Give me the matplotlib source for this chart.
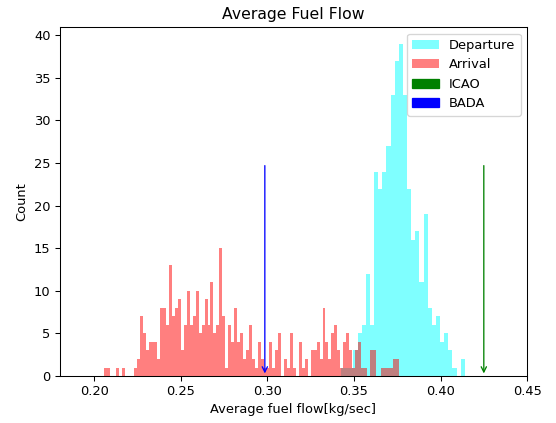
import numpy as np
import matplotlib
matplotlib.use("Agg")
import matplotlib.pyplot as plt
import matplotlib.patches as mpatches

# Histogram counts per bin (average fuel flow, kg/sec)
arrival_range = (0.2058, 0.3761)
arrival_counts = [
    1, 1, 0, 0, 1, 0, 1, 0, 0, 0,
    1, 2, 7, 5, 3, 4, 4, 4, 2, 8,
    8, 6, 13, 7, 8, 9, 3, 6, 10, 6,
    7, 10, 5, 6, 9, 6, 11, 5, 6, 15,
    7, 1, 6, 4, 8, 4, 5, 2, 3, 6,
    2, 1, 4, 2, 1, 1, 4, 1, 3, 5,
    0, 2, 1, 5, 1, 0, 4, 1, 2, 0,
    3, 3, 4, 2, 8, 4, 2, 5, 6, 3,
    1, 4, 5, 3, 1, 3, 4, 1, 1, 0,
    3, 3, 0, 0, 1, 1, 1, 1, 2, 2,
]

departure_range = (0.3425, 0.4140)
departure_counts = [
    1, 1, 1, 3, 5, 6, 12, 6, 24, 22,
    24, 27, 33, 37, 39, 33, 22, 16, 17, 11,
    19, 8, 6, 7, 4, 5, 3, 1, 0, 2,
]

# Reference values
icao_value = 0.425
bada_value = 0.2985
marker_top = 25

DPI = 94
fig = plt.figure(figsize=(556 / DPI, 423 / DPI), dpi=DPI)
ax = fig.add_axes([0.1074, 0.111, 0.8406, 0.825])

dep_edges = np.linspace(*departure_range, len(departure_counts) + 1)
arr_edges = np.linspace(*arrival_range, len(arrival_counts) + 1)
dep_centers = (dep_edges[:-1] + dep_edges[1:]) / 2
arr_centers = (arr_edges[:-1] + arr_edges[1:]) / 2

ax.hist(dep_centers, bins=dep_edges, weights=departure_counts,
        color="cyan", alpha=0.5, label="Departure")
ax.hist(arr_centers, bins=arr_edges, weights=arrival_counts,
        color="red", alpha=0.5, label="Arrival")

ax.annotate("", xy=(icao_value, 0), xytext=(icao_value, marker_top),
            arrowprops=dict(arrowstyle="->", color="green"))
ax.annotate("", xy=(bada_value, 0), xytext=(bada_value, marker_top),
            arrowprops=dict(arrowstyle="->", color="blue"))

ax.set_xlim(0.18, 0.45)
ax.set_title("Average Fuel Flow")
ax.set_xlabel("Average fuel flow[kg/sec]")
ax.set_ylabel("Count")

handles, labels = ax.get_legend_handles_labels()
handles += [mpatches.Patch(color="green", label="ICAO"),
            mpatches.Patch(color="blue", label="BADA")]
ax.legend(handles=handles, loc="upper right")

fig.savefig("out.png", dpi=DPI)
